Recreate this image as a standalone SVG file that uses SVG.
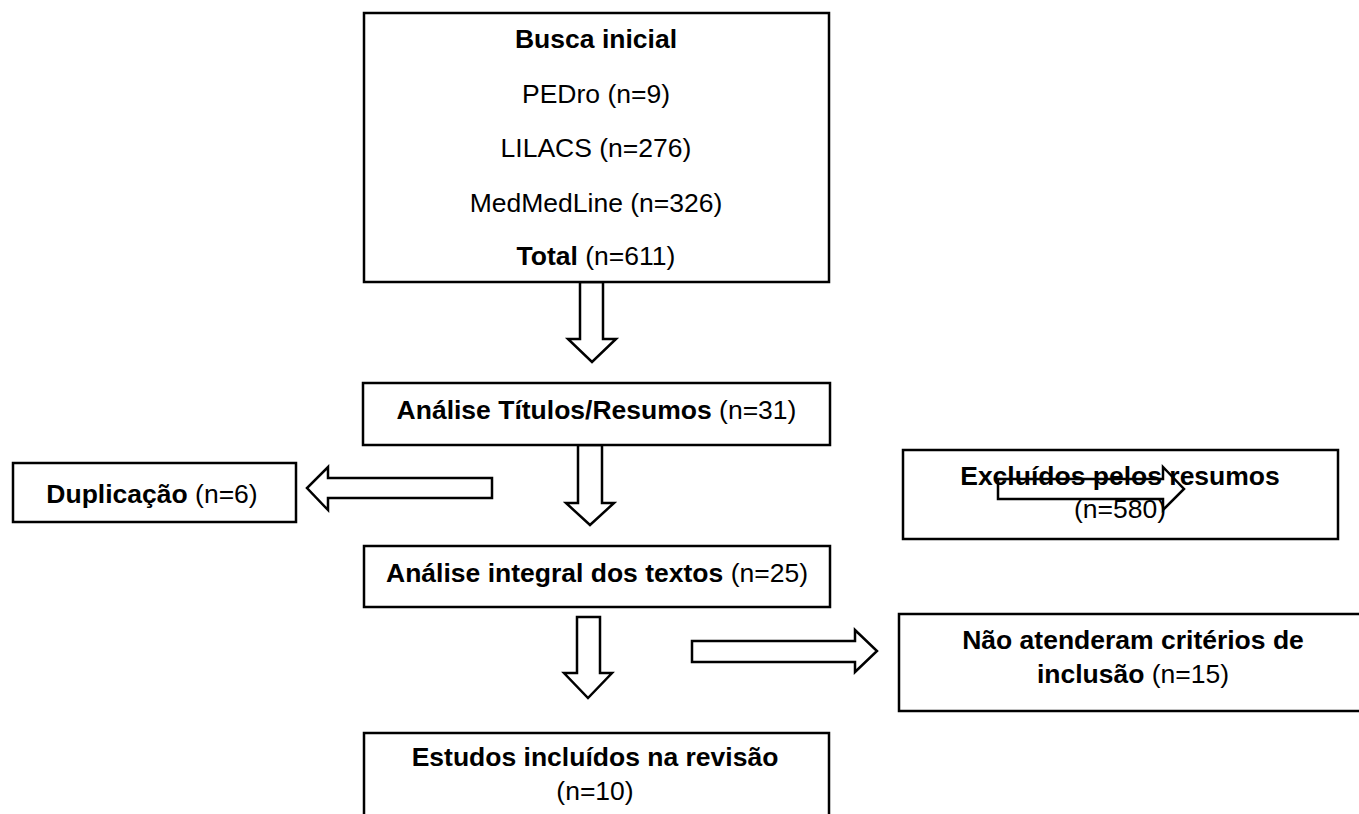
<svg xmlns="http://www.w3.org/2000/svg" width="1359" height="814" viewBox="0 0 1359 814">
<style>
.box{fill:#fff;stroke:#000;stroke-width:2.5}
.arr{fill:#fff;stroke:#000;stroke-width:2.5;stroke-linejoin:miter}
.t{font-family:"Liberation Sans",Arial,sans-serif;font-size:26.5px;fill:#000;text-anchor:middle}
.b{font-weight:bold}
</style>
<rect width="1359" height="814" fill="#fff"/>
<g id="connectors">
<polygon class="arr" points="580,282 603,282 603,339 616,339 592,362 568,339 580,339"/>
<polygon class="arr" points="578,445 602,445 602,503 614,503 590,525 566,503 578,503"/>
<polygon class="arr" points="577,617 600,617 600,673 612,673 588,698 564,673 577,673"/>
<polygon class="arr" points="492,478 328,478 328,467 307,488 328,510 328,498 492,498"/>
<polygon class="arr" points="692,641 855,641 855,630 877,651 855,672 855,662 692,662"/>
</g>
<g id="busca">
<rect class="box" x="364" y="13" width="465" height="269"/>
<text class="t b" x="596" y="48">Busca inicial</text>
<text class="t" x="596" y="103">PEDro (n=9)</text>
<text class="t" x="596" y="157">LILACS (n=276)</text>
<text class="t" x="596" y="212">MedMedLine (n=326)</text>
<text class="t" x="596" y="265"><tspan class="b">Total</tspan> (n=611)</text>
</g>
<g id="titulos">
<rect class="box" x="363" y="383" width="467" height="62"/>
<text class="t" x="596.5" y="419"><tspan class="b">Análise Títulos/Resumos</tspan> (n=31)</text>
</g>
<g id="duplicacao">
<rect class="box" x="13" y="463" width="283" height="59"/>
<text class="t" x="152" y="503"><tspan class="b">Duplicação</tspan> (n=6)</text>
</g>
<g id="excluidos">
<rect class="box" x="903" y="450" width="435" height="89"/>
<text class="t b" x="1120" y="485">Excluídos pelos resumos</text>
<text class="t" x="1120" y="518">(n=580)</text>
<polygon points="998,479 1163,479 1163,467 1184,489 1163,510 1163,499 998,499" fill="none" stroke="#000" stroke-width="2.5"/>
</g>
<g id="integral">
<rect class="box" x="364" y="546" width="466" height="61"/>
<text class="t" x="597" y="582"><tspan class="b">Análise integral dos textos</tspan> (n=25)</text>
</g>
<g id="nao">
<rect class="box" x="899" y="614" width="470" height="97"/>
<text class="t b" x="1133" y="649">Não atenderam critérios de</text>
<text class="t" x="1133" y="683"><tspan class="b">inclusão</tspan> (n=15)</text>
</g>
<g id="estudos">
<rect class="box" x="364" y="733" width="465" height="100"/>
<text class="t b" x="595" y="766">Estudos incluídos na revisão</text>
<text class="t" x="595" y="800">(n=10)</text>
</g>
</svg>
